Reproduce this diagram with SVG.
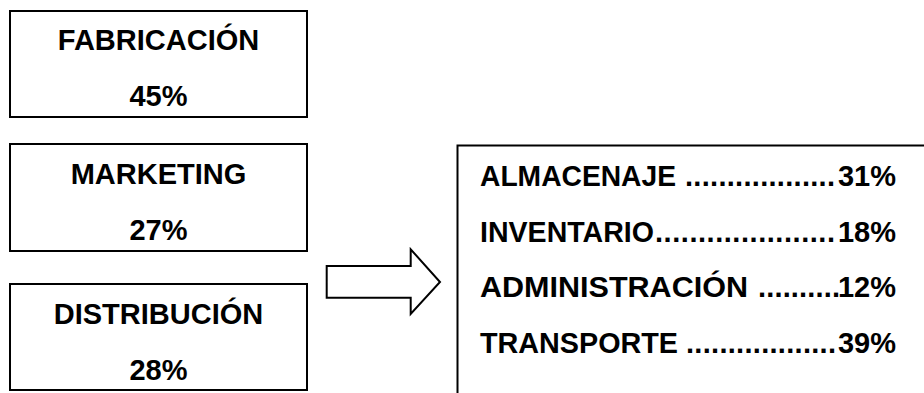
<svg xmlns="http://www.w3.org/2000/svg" width="924" height="393" viewBox="0 0 924 393">
<style>
.box{fill:#fff;stroke:#000;stroke-width:2}
.t{font-family:"Liberation Sans",Arial,sans-serif;font-weight:bold;font-size:29px;fill:#000}
.c{text-anchor:middle}
.e{text-anchor:end}
</style>
<rect width="924" height="393" fill="#fff"/>
<g id="fabricacion">
<rect class="box" x="10" y="11" width="297" height="106"/>
<text class="t c" x="158.5" y="49.5">FABRICACIÓN</text>
<text class="t c" x="158.5" y="106">45%</text>
</g>
<g id="marketing">
<rect class="box" x="10" y="144" width="297" height="107"/>
<text class="t c" x="158.5" y="183.5">MARKETING</text>
<text class="t c" x="158.5" y="240">27%</text>
</g>
<g id="distribucion">
<rect class="box" x="10" y="284" width="297" height="106"/>
<text class="t c" x="158.5" y="323.5">DISTRIBUCIÓN</text>
<text class="t c" x="158.5" y="380">28%</text>
</g>
<g id="connectors">
<path d="M326.7,266 H410.7 V249.3 L440,282 L410.7,314 V297.7 H326.7 Z" fill="#fff" stroke="#000" stroke-width="2"/>
</g>
<g id="costes">
<path d="M457.5,400 V145.5 H930" fill="none" stroke="#000" stroke-width="2"/>
<text class="t" x="480" y="185.5" textLength="196" lengthAdjust="spacingAndGlyphs">ALMACENAJE</text>
<text class="t" x="685" y="185.5" textLength="150" lengthAdjust="spacing">..................</text>
<text class="t e" x="896" y="185.5">31%</text>
<text class="t" x="480" y="241.5" textLength="174" lengthAdjust="spacingAndGlyphs">INVENTARIO</text>
<text class="t" x="655" y="241.5" textLength="180" lengthAdjust="spacing">.....................</text>
<text class="t e" x="896" y="241.5">18%</text>
<text class="t" x="480" y="297" textLength="268" lengthAdjust="spacingAndGlyphs">ADMINISTRACIÓN</text>
<text class="t" x="758" y="297" textLength="82" lengthAdjust="spacing">..........</text>
<text class="t e" x="896" y="297">12%</text>
<text class="t" x="480" y="353" textLength="198" lengthAdjust="spacingAndGlyphs">TRANSPORTE</text>
<text class="t" x="686" y="353" textLength="150" lengthAdjust="spacing">..................</text>
<text class="t e" x="896" y="353">39%</text>
</g>
</svg>
